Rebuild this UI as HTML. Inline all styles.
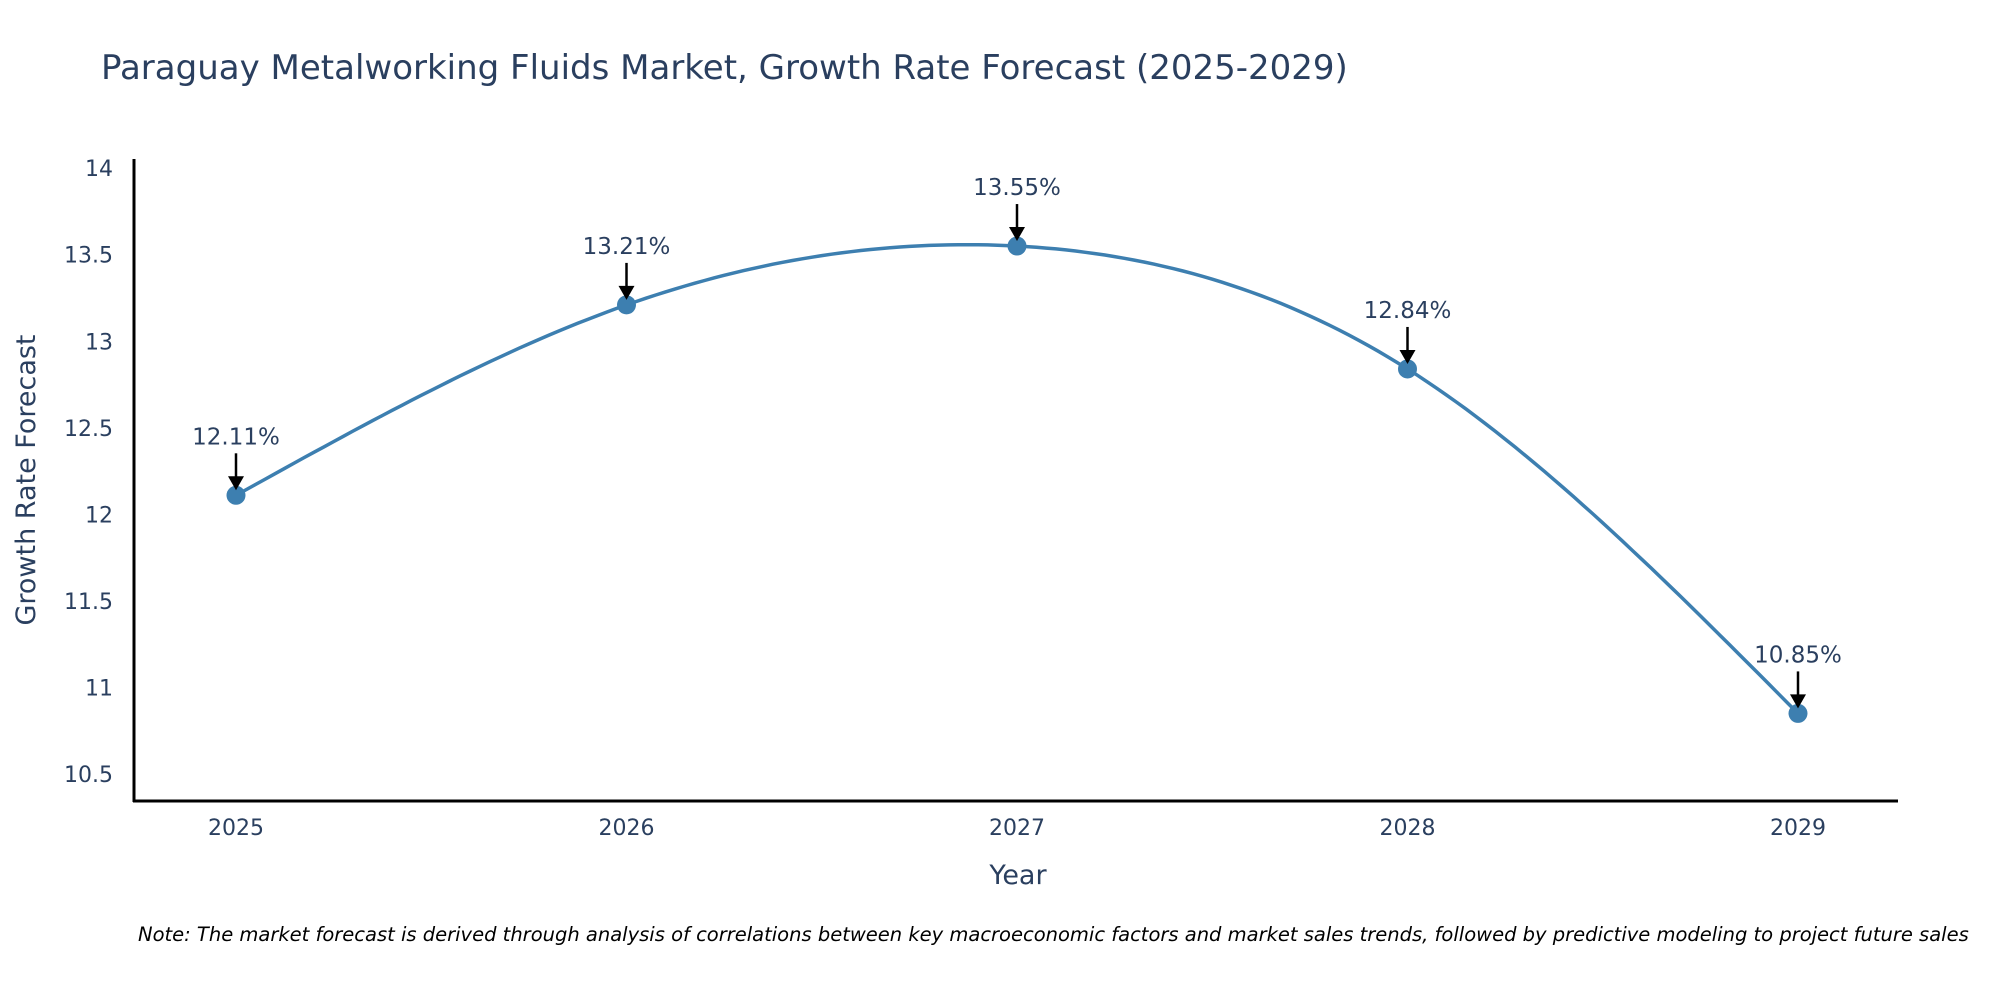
<!DOCTYPE html>
<html><head><meta charset="utf-8"><style>
body{margin:0;background:#fff;}
svg{display:block;font-family:"DejaVu Sans","Liberation Sans",sans-serif;}
</style></head><body>
<svg id="chart" width="2000" height="1000" viewBox="0 0 2000 1000">
<text x="101" y="79" font-size="34" fill="#2a3f5f">Paraguay Metalworking Fluids Market, Growth Rate Forecast (2025-2029)</text>
<g id="yticks"></g><g id="xticks"></g>
<line x1="134" y1="159" x2="134" y2="802" stroke="#000" stroke-width="3"/>
<line x1="133" y1="801" x2="1898" y2="801" stroke="#000" stroke-width="3"/>
<text transform="translate(35,480) rotate(-90)" text-anchor="middle" font-size="27" fill="#2a3f5f">Growth Rate Forecast</text>
<text x="1018" y="884" text-anchor="middle" font-size="27" fill="#2a3f5f">Year</text>
<g id="series"></g>
<text x="138" y="941" font-size="19.5" font-style="italic" fill="#000">Note: The market forecast is derived through analysis of correlations between key macroeconomic factors and market sales trends, followed by predictive modeling to project future sales</text>
</svg>
<script>
const categories=["2025","2026","2027","2028","2029"];
const values=[12.11,13.21,13.55,12.84,10.85];
const yTicks=[10.5,11,11.5,12,12.5,13,13.5,14];
const NS="http://www.w3.org/2000/svg";
function xs(i){return 236+i*390.5;}
function ys(v){return 774-(v-10.5)*173.1;}
function mk(t,a,p){const e=document.createElementNS(NS,t);for(const k in a)e.setAttribute(k,a[k]);p.appendChild(e);return e;}
const yt=document.getElementById('yticks');
yTicks.forEach(v=>{const t=mk('text',{x:113,y:ys(v)+8,'text-anchor':'end','font-size':22,fill:'#2a3f5f'},yt);


t.textContent=v;});
const xt=document.getElementById('xticks');
categories.forEach((c,i)=>{const t=mk('text',{x:xs(i),y:835,'text-anchor':'middle','font-size':22,fill:'#2a3f5f'},xt);


t.textContent=c;});
const s=document.getElementById('series');
// natural cubic spline in index space
const n=values.length;const M=new Array(n).fill(0);
{const a=[],b=[],c=[],r=[];for(let i=1;i<n-1;i++){a.push(1);b.push(4);c.push(1);r.push(6*(values[i+1]-2*values[i]+values[i-1]));}
const m=r.length;for(let i=1;i<m;i++){const w=a[i]/b[i-1];b[i]-=w*c[i-1];r[i]-=w*r[i-1];}
const sol=new Array(m);sol[m-1]=r[m-1]/b[m-1];for(let i=m-2;i>=0;i--)sol[i]=(r[i]-c[i]*sol[i+1])/b[i];
for(let i=0;i<m;i++)M[i+1]=sol[i];}
let d='';
for(let i=0;i<n-1;i++){for(let j=0;j<=40;j++){const t=j/40;
const v=(1-t)*values[i]+t*values[i+1]+((Math.pow(1-t,3)-(1-t))*M[i]+(Math.pow(t,3)-t)*M[i+1])/6;
d+=(d?' L':'M')+xs(i+t).toFixed(1)+','+ys(v).toFixed(1);}}
const line=mk('path',{d:d,fill:'none',stroke:'#3d7fb0','stroke-width':3.5},s);


values.forEach((v,i)=>{const p=[xs(i),ys(v)];
const c=mk('circle',{cx:p[0],cy:p[1],r:9.5,fill:'#3d7fb0'},s);


const a=mk('line',{x1:p[0],y1:p[1]-42,x2:p[0],y2:p[1]-18,stroke:'#000','stroke-width':2.5},s);


const h=mk('polygon',{points:`${p[0]-8},${p[1]-19} ${p[0]+8},${p[1]-19} ${p[0]},${p[1]-5}`,fill:'#000'},s);


const t=mk('text',{x:p[0],y:p[1]-51,'text-anchor':'middle','font-size':23,fill:'#2a3f5f'},s);


t.textContent=v.toFixed(2)+'%';
});
</script>
</body></html>
